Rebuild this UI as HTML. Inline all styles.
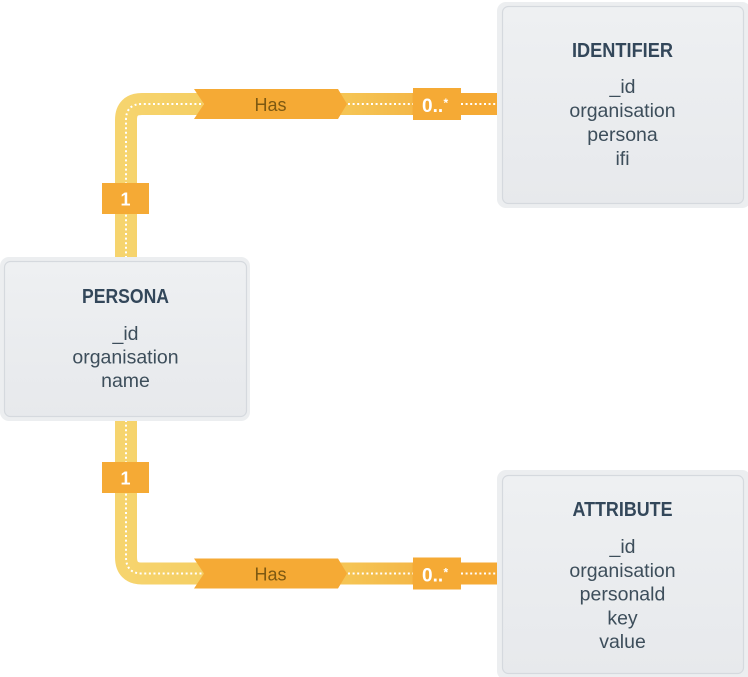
<!DOCTYPE html>
<html>
<head>
<meta charset="utf-8">
<style>
  html,body{margin:0;padding:0;background:#ffffff;}
  svg{display:block;}
  .t{font-family:"Liberation Sans",sans-serif;font-weight:bold;fill:#33475a;}
  .b{font-family:"Liberation Sans",sans-serif;font-size:19.5px;fill:#3d4e5b;}
  .w{font-family:"Liberation Sans",sans-serif;font-weight:bold;fill:#ffffff;}
</style>
</head>
<body>
<svg width="748" height="677" viewBox="0 0 748 677" xmlns="http://www.w3.org/2000/svg">
  <defs>
    <linearGradient id="band" gradientUnits="userSpaceOnUse" x1="126" y1="0" x2="497" y2="0">
      <stop offset="0" stop-color="#f6d46e"/>
      <stop offset="0.18" stop-color="#f5cf65"/>
      <stop offset="0.6" stop-color="#f5c454"/>
      <stop offset="0.77" stop-color="#f4b848"/>
      <stop offset="0.775" stop-color="#f5aa35"/>
      <stop offset="1" stop-color="#f5aa35"/>
    </linearGradient>
    <linearGradient id="boxg" x1="0" y1="0" x2="0" y2="1">
      <stop offset="0" stop-color="#eef0f2"/>
      <stop offset="1" stop-color="#e7e9ec"/>
    </linearGradient>
  </defs>

  <!-- top connector band -->
  <path d="M126 258 L126 120 Q126 104 142 104 L497 104" fill="none" stroke="url(#band)" stroke-width="22"/>
  <!-- bottom connector band -->
  <path d="M126 420 L126 557 Q126 573.5 142 573.5 L497 573.5" fill="none" stroke="url(#band)" stroke-width="22"/>

  <!-- dotted lines top -->
  <path d="M126 258 L126 120 Q126 104 142 104 L204 104" fill="none" stroke="#ffffff" stroke-width="2" stroke-dasharray="2 2.6"/>
  <path d="M348 104 L413 104 M461 104 L497 104" fill="none" stroke="#ffffff" stroke-width="2" stroke-dasharray="2 2.6"/>
  <!-- dotted lines bottom -->
  <path d="M126 420 L126 557 Q126 573.5 142 573.5 L204 573.5" fill="none" stroke="#ffffff" stroke-width="2" stroke-dasharray="2 2.6"/>
  <path d="M348 573.5 L413 573.5 M461 573.5 L497 573.5" fill="none" stroke="#ffffff" stroke-width="2" stroke-dasharray="2 2.6"/>

  <!-- Has banners -->
  <polygon points="194,89 338,89 347,104 338,119 194,119 204,104" fill="#f5aa35"/>
  <text x="270.5" y="111" text-anchor="middle" font-family="Liberation Sans, sans-serif" font-size="18" fill="#7d5912">Has</text>
  <polygon points="194,558.5 338,558.5 347,573.5 338,588.5 194,588.5 204,573.5" fill="#f5aa35"/>
  <text x="270.5" y="580.5" text-anchor="middle" font-family="Liberation Sans, sans-serif" font-size="18" fill="#7d5912">Has</text>

  <!-- 0..* labels -->
  <rect x="413" y="88" width="48" height="32" fill="#f5aa35"/>
  <text x="422" y="112" class="w" font-size="19">0..</text>
  <text x="443.5" y="107" class="w" font-size="12">*</text>
  <rect x="413" y="557.5" width="48" height="32" fill="#f5aa35"/>
  <text x="422" y="581.5" class="w" font-size="19">0..</text>
  <text x="443.5" y="576.5" class="w" font-size="12">*</text>

  <!-- 1 labels -->
  <rect x="102" y="183" width="47" height="31" fill="#f5aa35"/>
  <text x="125.5" y="205.5" text-anchor="middle" class="w" font-size="18">1</text>
  <rect x="102" y="462" width="47" height="31" fill="#f5aa35"/>
  <text x="125.5" y="484.5" text-anchor="middle" class="w" font-size="18">1</text>

  <!-- PERSONA box -->
  <rect x="0" y="257" width="250" height="164" rx="9" fill="#eceef0"/>
  <rect x="4.5" y="261.5" width="242" height="155" rx="6" fill="url(#boxg)" stroke="#d5d9de" stroke-width="1.2"/>
  <text x="125.5" y="303" text-anchor="middle" class="t" font-size="20" textLength="87" lengthAdjust="spacingAndGlyphs">PERSONA</text>
  <text x="125.5" y="340" text-anchor="middle" class="b">_id</text>
  <text x="125.5" y="363.5" text-anchor="middle" class="b">organisation</text>
  <text x="125.5" y="387" text-anchor="middle" class="b">name</text>

  <!-- IDENTIFIER box -->
  <rect x="497" y="2" width="254" height="206" rx="9" fill="#eceef0"/>
  <rect x="502.5" y="6.5" width="241" height="197" rx="6" fill="url(#boxg)" stroke="#d5d9de" stroke-width="1.2"/>
  <text x="622.5" y="57" text-anchor="middle" class="t" font-size="20" textLength="101" lengthAdjust="spacingAndGlyphs">IDENTIFIER</text>
  <text x="622.5" y="93" text-anchor="middle" class="b">_id</text>
  <text x="622.5" y="117" text-anchor="middle" class="b">organisation</text>
  <text x="622.5" y="141" text-anchor="middle" class="b">persona</text>
  <text x="622.5" y="165" text-anchor="middle" class="b">ifi</text>

  <!-- ATTRIBUTE box -->
  <rect x="497" y="470" width="254" height="210" rx="9" fill="#eceef0"/>
  <rect x="502.5" y="475.5" width="241" height="198" rx="6" fill="url(#boxg)" stroke="#d5d9de" stroke-width="1.2"/>
  <text x="622.5" y="516" text-anchor="middle" class="t" font-size="20" textLength="100" lengthAdjust="spacingAndGlyphs">ATTRIBUTE</text>
  <text x="622.5" y="553" text-anchor="middle" class="b">_id</text>
  <text x="622.5" y="577" text-anchor="middle" class="b">organisation</text>
  <text x="622.5" y="600.5" text-anchor="middle" class="b">personald</text>
  <text x="622.5" y="624.5" text-anchor="middle" class="b">key</text>
  <text x="622.5" y="648" text-anchor="middle" class="b">value</text>
</svg>
</body>
</html>
